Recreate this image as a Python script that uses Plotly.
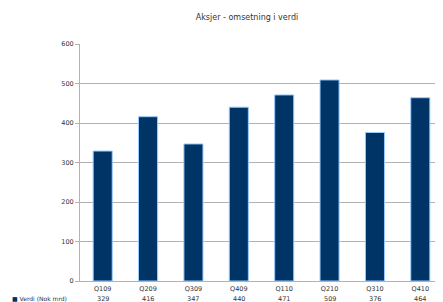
import plotly.graph_objects as go

categories = ["Q109", "Q209", "Q309", "Q409", "Q110", "Q210", "Q310", "Q410"]
values = [329, 416, 347, 440, 471, 509, 376, 464]
series_name = "Verdi (Nok mrd)"
title_text = "Aksjer - omsetning i verdi"
y_ticks = [0, 100, 200, 300, 400, 500, 600]

font_family = "DejaVu Sans"
# page body has an 8px default margin; offsets below compensate for it
OFF = 8

fig = go.Figure()
fig.add_trace(go.Bar(
    x=categories, y=values, name=series_name,
    marker=dict(color="#003366", line=dict(color="#99ccff", width=1)),
    width=0.42,
))

annotations = []
for c, v in zip(categories, values):
    annotations.append(dict(x=c, xref="x", y=0, yref="y", yshift=-12, text=str(v), showarrow=False,
                            font=dict(size=6.5, color="#333333", family=font_family), yanchor="top"))
annotations.append(dict(xref="paper", x=-72 / 363 + 2 / 363, yref="y", y=0, yshift=-12, xanchor="left", yanchor="top",
                        text="<span style='color:#003366'>■</span> " + series_name,
                        showarrow=False, font=dict(size=6, color="#333333", family=font_family)))

fig.update_layout(
    width=443, height=302,
    margin=dict(l=80 - OFF, r=OFF, t=44 - OFF, b=21 + OFF),
    paper_bgcolor="white", plot_bgcolor="white",
    showlegend=False,
    title=dict(text=title_text, xref="container", x=(247 - OFF) / 443, xanchor="center",
               yref="container", y=1 - (17 - OFF) / 302, yanchor="middle",
               font=dict(size=8, color="#333333", family=font_family)),
    xaxis=dict(showgrid=False, showline=True, linecolor="#b3b3b3", linewidth=1,
               ticks="", tickfont=dict(size=6.5, color="#333333", family=font_family),
               ticklabelstandoff=1),
    yaxis=dict(range=[0, 600], tickvals=y_ticks, showgrid=True, gridcolor="#b3b3b3", gridwidth=1,
               showline=True, linecolor="#b3b3b3", linewidth=1, ticks="outside", ticklen=4,
               tickcolor="#b3b3b3", zeroline=False,
               tickfont=dict(size=6.5, color="#333333", family=font_family)),
    annotations=annotations,
    bargap=0.58,
)

fig.write_html("out.html")
